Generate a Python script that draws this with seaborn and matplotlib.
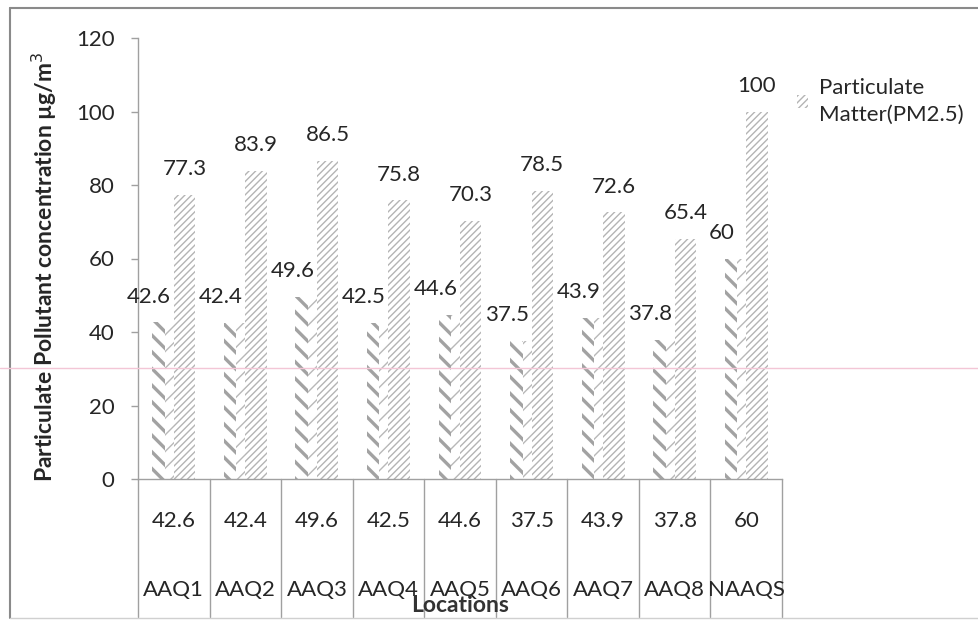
import matplotlib
matplotlib.use("Agg")
import matplotlib.pyplot as plt
import matplotlib.patches as mpatches
import seaborn as sns
import pandas as pd

locations = ["AAQ1", "AAQ2", "AAQ3", "AAQ4", "AAQ5", "AAQ6", "AAQ7", "AAQ8", "NAAQS"]
pm10 = [42.6, 42.4, 49.6, 42.5, 44.6, 37.5, 43.9, 37.8, 60]
pm25 = [77.3, 83.9, 86.5, 75.8, 70.3, 78.5, 72.6, 65.4, 100]
series_names = ["Particulate Matter(PM10)", "Particulate Matter(PM2.5)"]
yticks = [0, 20, 40, 60, 80, 100, 120]

df = pd.DataFrame({
    "Location": locations * 2,
    "Value": pm10 + pm25,
    "Series": [series_names[0]] * len(locations) + [series_names[1]] * len(locations),
})

sns.set_theme(style="white")
plt.rcParams["font.family"] = ["Lato", "DejaVu Sans"]
plt.rcParams["hatch.linewidth"] = 1.0

W, H = 979, 623
fig = plt.figure(figsize=(W / 100, H / 100), dpi=100)
fig.patch.set_facecolor("white")

def fx(px):
    return px / W

def fy(py):
    return 1 - py / H

FS = 16
TXT = "#262626"

ax = fig.add_axes([fx(138), fy(479), fx(782) - fx(138), fy(38) - fy(479)])

sns.barplot(data=df, x="Location", y="Value", hue="Series", order=locations,
            hue_order=series_names, width=0.6, ax=ax, legend=False,
            palette=["white", "white"], saturation=1)

n = len(locations)
pm10_patches = ax.patches[:n]
pm25_patches = ax.patches[n:2 * n]

c10 = "#a2a2a2"
c25 = "#b4b4b4"
for p in pm10_patches:
    p.set_facecolor("white")
    p.set_edgecolor(c10)
    p.set_linewidth(0)
    p.set_hatch("\\\\")
    if hasattr(p, "set_hatch_linewidth"):
        p.set_hatch_linewidth(2.4)
for p in pm25_patches:
    p.set_facecolor("white")
    p.set_edgecolor(c25)
    p.set_linewidth(0)
    p.set_hatch("/////")
    if hasattr(p, "set_hatch_linewidth"):
        p.set_hatch_linewidth(1.0)

# chevron look: thin forward slashes on right part of PM10 bars
for p in pm10_patches:
    x0, y0 = p.get_x(), p.get_y()
    w, h = p.get_width(), p.get_height()
    r = mpatches.Rectangle((x0 + w * 0.58, y0), w * 0.42, h, facecolor="white",
                           edgecolor="#b8b8b8", linewidth=0, hatch="//")
    if hasattr(r, "set_hatch_linewidth"):
        r.set_hatch_linewidth(1.0)
    ax.add_patch(r)

# data labels
for p, v in zip(pm10_patches, pm10):
    ax.annotate(f"{v:g}", (p.get_x() + p.get_width() / 2, v), xytext=(-10, 18.5),
                textcoords="offset points", ha="center", va="center",
                fontsize=FS, color=TXT)
for p, v in zip(pm25_patches, pm25):
    ax.annotate(f"{v:g}", (p.get_x() + p.get_width() / 2, v), xytext=(0, 18.5),
                textcoords="offset points", ha="center", va="center",
                fontsize=FS, color=TXT)

ax.set_xlim(-0.5, n - 0.5)
ax.set_ylim(0, 120)
ax.set_yticks(yticks)
ax.set_yticklabels([str(t) for t in yticks], fontsize=FS, color=TXT)
ax.tick_params(axis="y", left=True, length=5, width=1, color="#a0a0a0", pad=12)
ax.set_xticks([])
ax.set_xlabel("")
ax.set_ylabel("")
for s in ["top", "right"]:
    ax.spines[s].set_visible(False)
ax.spines["left"].set_color("#a0a0a0")
ax.spines["bottom"].set_color("#a0a0a0")
ax.spines["left"].set_linewidth(1)
ax.spines["bottom"].set_linewidth(1)

# data table below axis
trans = ax.get_xaxis_transform()
table_bottom = (fy(617) - fy(479)) / (fy(38) - fy(479))
val_y = (fy(521) - fy(479)) / (fy(38) - fy(479))
name_y = (fy(590) - fy(479)) / (fy(38) - fy(479))
for i in range(n + 1):
    ax.plot([i - 0.5, i - 0.5], [0, table_bottom], transform=trans, color="#a0a0a0",
            lw=1, clip_on=False)
for i, (loc, v) in enumerate(zip(locations, pm10)):
    ax.text(i, val_y, f"{v:g}", transform=trans, ha="center", va="center",
            fontsize=FS, color=TXT, clip_on=False)
    ax.text(i, name_y, loc, transform=trans, ha="center", va="center",
            fontsize=FS, color=TXT, clip_on=False)

fig.text((fx(138) + fx(782)) / 2, fy(606), "Locations", ha="center", va="center",
         fontsize=16.5, fontweight="bold", color="#333333")
fig.text(fx(44), fy(267), "Particulate Pollutant concentration µg/m$^{3}$",
         rotation=90, ha="center", va="center", fontsize=16.5, fontweight="bold",
         color=TXT)

# legend (only PM2.5 visible)
handle = mpatches.Patch(facecolor="white", edgecolor=c25, hatch="/////", linewidth=0)
leg = fig.legend([handle], ["Particulate\nMatter(PM2.5)"], loc="upper left",
                 bbox_to_anchor=(fx(777), fy(58)), frameon=False, fontsize=FS,
                 handlelength=0.5, handleheight=0.5, handletextpad=0.5,
                 labelcolor=TXT)
for t in leg.get_texts():
    t.set_linespacing(1.45)

# outer frame of chart area
fig.add_artist(plt.Line2D([fx(10), fx(10)], [fy(8), fy(618)], color="#8a8a8a", lw=1.5))
fig.add_artist(plt.Line2D([fx(10), 1.0], [fy(8), fy(8)], color="#8a8a8a", lw=1.5))
fig.add_artist(plt.Line2D([fx(10), 1.0], [fy(618), fy(618)], color="#d0d0d0", lw=1))
# faint scan line
fig.add_artist(plt.Line2D([0, 1.0], [fy(368), fy(368)], color="#f3c6d6", lw=1))

fig.savefig("out.png", dpi=100, facecolor="white")
